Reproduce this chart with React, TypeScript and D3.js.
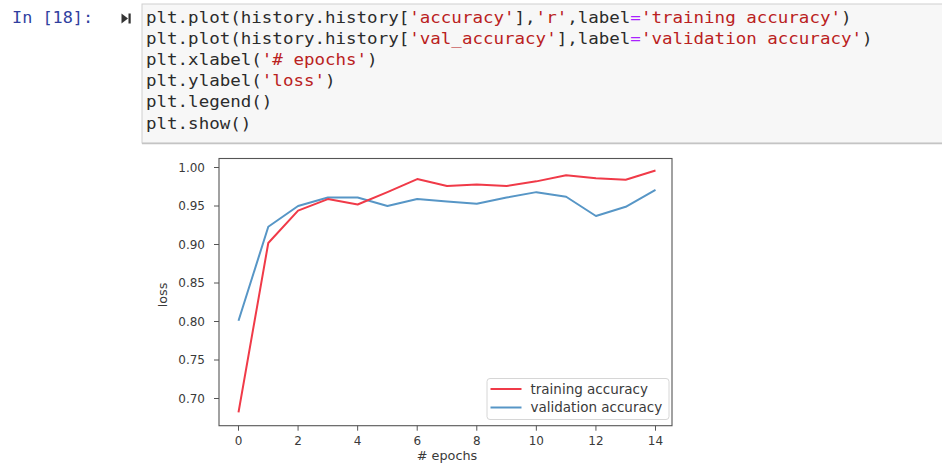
import React from "react";
import * as d3 from "d3";

const epochs = d3.range(0, 15);
const trainingAccuracy = [0.682, 0.902, 0.944, 0.959, 0.952, 0.968, 0.985, 0.976, 0.978, 0.976, 0.982, 0.990, 0.986, 0.984, 0.996];
const validationAccuracy = [0.801, 0.923, 0.950, 0.961, 0.961, 0.950, 0.959, 0.956, 0.953, 0.961, 0.968, 0.962, 0.937, 0.949, 0.971];
const xTicks = [0, 2, 4, 6, 8, 10, 12, 14];
const yTicks = [0.70, 0.75, 0.80, 0.85, 0.90, 0.95, 1.00];
const seriesLabels = ["training accuracy", "validation accuracy"];

type Seg = [string, string];
const DARK = "#2b2b2b";
const STR = "#ba2121";
const OP = "#aa22ff";
const codeLines: Seg[][] = [
  [["plt.plot(history.history[", DARK], ["'accuracy'", STR], ["],", DARK], ["'r'", STR], [",label", DARK], ["=", OP], ["'training accuracy'", STR], [")", DARK]],
  [["plt.plot(history.history[", DARK], ["'val_accuracy'", STR], ["],label", DARK], ["=", OP], ["'validation accuracy'", STR], [")", DARK]],
  [["plt.xlabel(", DARK], ["'# epochs'", STR], [")", DARK]],
  [["plt.ylabel(", DARK], ["'loss'", STR], [")", DARK]],
  [["plt.legend()", DARK]],
  [["plt.show()", DARK]],
];

export default function App() {
  const W = 942, H = 463;
  const frame = { left: 219, right: 672, top: 158.5, bottom: 425.7 };
  const x = d3.scaleLinear().domain([0, 14]).range([238.5, 655.5]);
  const y = d3.scaleLinear().domain([0.70, 1.00]).range([398.5, 167.5]);
  const line = d3.line<number>().x((_, i) => x(epochs[i])).y((d) => y(d));

  const RED = "#f03a48";
  const BLUE = "#5796c6";
  const font = "'DejaVu Sans', sans-serif";
  const mono = "'DejaVu Sans Mono', 'Liberation Mono', monospace";
  const charW = 10.53;
  const codeX = 146;
  const baseY = 23;
  const pitch = 21.1;

  return (
    <svg width={W} height={H} style={{ position: "absolute", left: 0, top: 0, background: "#fff" }}>
      {/* notebook cell */}
      <text x={12} y={23} fontFamily={mono} fontSize={16} fill="#303f9f" textLength={81} lengthAdjust="spacingAndGlyphs">In [18]:</text>
      <path d="M121.5,13.5 L128,18.5 L121.5,23.5 Z" fill="#333" />
      <rect x={128.5} y={13.5} width={2.2} height={10} fill="#333" />
      <rect x={142} y={4} width={810} height={139} fill="#f7f7f7" stroke="#cfcfcf" strokeWidth={1} />
      <line x1={142} x2={942} y1={143.5} y2={143.5} stroke="#c4c4c4" strokeWidth={1.5} />
      {codeLines.map((segs, li) => {
        let idx = 0;
        return segs.map(([t, c], si) => {
          const xx = codeX + idx * charW;
          idx += t.length;
          return (
            <text key={`${li}-${si}`} x={xx} y={baseY + li * pitch} fontFamily={mono} fontSize={16.5} fill={c}
              textLength={t.length * charW} lengthAdjust="spacingAndGlyphs" style={{ whiteSpace: "pre" }}>
              {t}
            </text>
          );
        });
      })}

      {/* plot */}
      <path d={line(validationAccuracy) || ""} fill="none" stroke={BLUE} strokeWidth={2} strokeLinejoin="round" />
      <path d={line(trainingAccuracy) || ""} fill="none" stroke={RED} strokeWidth={2} strokeLinejoin="round" />
      <rect x={frame.left} y={frame.top} width={frame.right - frame.left} height={frame.bottom - frame.top}
        fill="none" stroke="#555" strokeWidth={1.1} />

      {xTicks.map((t) => (
        <g key={`x${t}`}>
          <line x1={x(t)} x2={x(t)} y1={frame.bottom} y2={frame.bottom + 5} stroke="#555" strokeWidth={1} />
          <text x={x(t)} y={445} textAnchor="middle" fontFamily={font} fontSize={12} fill="#3a3a3a">{t}</text>
        </g>
      ))}
      {yTicks.map((t) => (
        <g key={`y${t}`}>
          <line x1={frame.left - 5} x2={frame.left} y1={y(t)} y2={y(t)} stroke="#555" strokeWidth={1} />
          <text x={205} y={y(t) + 4.3} textAnchor="end" fontFamily={font} fontSize={12} fill="#3a3a3a">{t.toFixed(2)}</text>
        </g>
      ))}
      <text x={447} y={459.5} textAnchor="middle" fontFamily={font} fontSize={12.8} fill="#3a3a3a"># epochs</text>
      <text transform="translate(167,295) rotate(-90)" textAnchor="middle" fontFamily={font} fontSize={12.8} fill="#3a3a3a">loss</text>

      {/* legend */}
      <rect x={487} y={378.5} width={182} height={41} rx={3} fill="#fff" fillOpacity={0.85} stroke="#d6d6d6" strokeWidth={1} />
      {seriesLabels.map((s, i) => (
        <g key={s}>
          <line x1={490.5} x2={521.5} y1={389 + i * 18.5} y2={389 + i * 18.5} stroke={i === 0 ? RED : BLUE} strokeWidth={2} />
          <text x={530.5} y={393.5 + i * 18.5} fontFamily={font} fontSize={13.5} fill="#3a3a3a">{s}</text>
        </g>
      ))}
    </svg>
  );
}
